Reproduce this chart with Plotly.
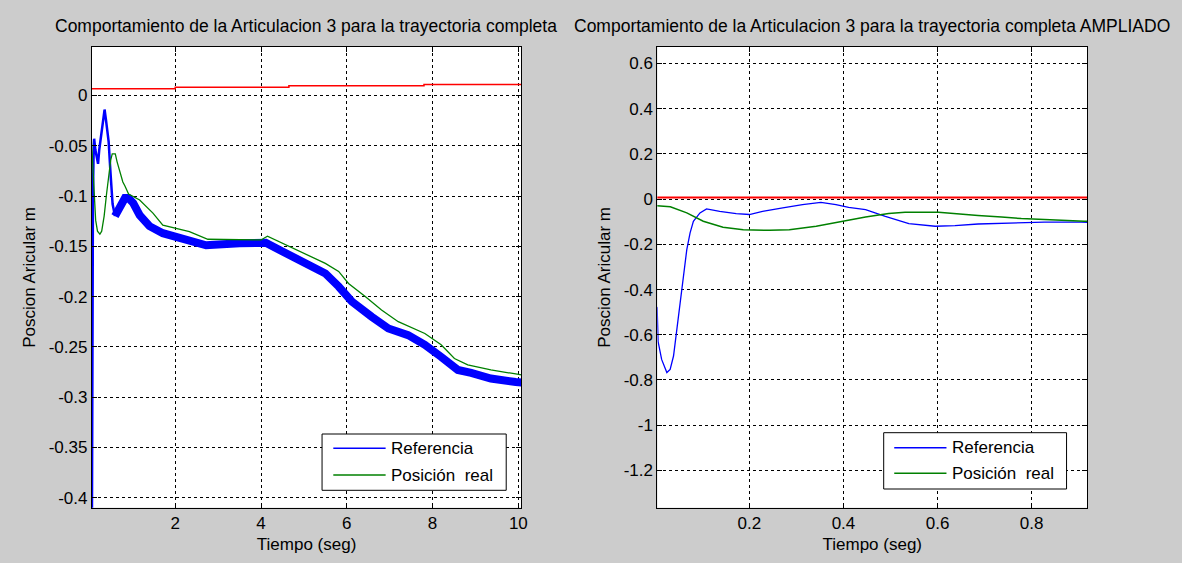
import numpy as np
import plotly.graph_objects as go

# ---- data: joint 3 position over the full trajectory ----
# reference (commanded) position
t_ref = [0.0, 0.004, 0.006, 0.0135, 0.0246, 0.0316, 0.0388, 0.046, 0.053, 0.060,
         0.067, 0.074, 0.081, 0.095, 0.109, 0.137, 0.172, 0.200, 0.228, 0.271,
         0.313, 0.352, 0.384, 0.411, 0.447, 0.489, 0.539, 0.595, 0.637, 0.686,
         0.757, 0.827, 0.905, 1.02, 1.17, 1.40, 1.71, 2.02, 2.33, 2.72,
         3.50, 4.11, 4.49, 5.04, 5.50, 5.81, 6.12, 6.58, 6.97, 7.43,
         7.82, 8.20, 8.59, 8.90, 9.36, 9.94, 10.07]
ref = [-0.47, -0.48, -0.63, -0.709, -0.767, -0.753, -0.694, -0.576, -0.444, -0.326,
       -0.223, -0.149, -0.098, -0.061, -0.043, -0.054, -0.064, -0.068, -0.054, -0.039,
       -0.024, -0.014, -0.024, -0.036, -0.046, -0.076, -0.108, -0.120, -0.117, -0.110,
       -0.105, -0.102, -0.102, -0.107, -0.119, -0.130, -0.137, -0.1404, -0.145, -0.149,
       -0.147, -0.1464, -0.155, -0.167, -0.177, -0.190, -0.205, -0.220, -0.2317, -0.2384,
       -0.248, -0.260, -0.273, -0.276, -0.2815, -0.285, -0.2855]

# measured (real) position
t_real = [0.0, 0.032, 0.067, 0.102, 0.144, 0.187, 0.243, 0.285, 0.342, 0.398,
          0.447, 0.496, 0.531, 0.602, 0.644, 0.686, 0.736, 0.778, 0.827, 0.912,
          1.17, 1.48, 1.71, 2.02, 2.33, 2.76, 3.50, 4.00, 4.15, 4.42,
          5.04, 5.50, 5.81, 6.04, 6.43, 6.81, 7.20, 7.82, 8.20, 8.51,
          8.82, 9.36, 9.94, 10.07]
real = [-0.029, -0.034, -0.061, -0.098, -0.124, -0.135, -0.138, -0.135, -0.120, -0.098,
        -0.079, -0.064, -0.058, -0.058, -0.066, -0.072, -0.079, -0.086, -0.090, -0.098,
        -0.104, -0.117, -0.129, -0.132, -0.1355, -0.143, -0.1437, -0.1437, -0.140, -0.1454,
        -0.157, -0.167, -0.175, -0.187, -0.200, -0.2134, -0.225, -0.2367, -0.248, -0.2616,
        -0.268, -0.273, -0.277, -0.278]

# setpoint steps (drawn in red)
t_set = [0.0, 2.0, 4.65, 7.8, 10.07]
setpoint = [0.0068, 0.0082, 0.0096, 0.0110, 0.0110]

# axis ticks
x1_ticks = [2, 4, 6, 8, 10]
y1_ticks = [0, -0.05, -0.1, -0.15, -0.2, -0.25, -0.3, -0.35, -0.4]
y1_labels = ["0", "-0.05", "-0.1", "-0.15", "-0.2", "-0.25", "-0.3", "-0.35", "-0.4"]
x2_ticks = [0.2, 0.4, 0.6, 0.8]
y2_ticks = [0.6, 0.4, 0.2, 0, -0.2, -0.4, -0.6, -0.8, -1, -1.2]
y2_labels = ["0.6", "0.4", "0.2", "0", "-0.2", "-0.4", "-0.6", "-0.8", "-1", "-1.2"]

TITLE = "Comportamiento de la Articulacion 3 para la trayectoria completa"
NAMES = ["Referencia", "Posición\u00a0\u00a0real"]

BLUE, GREEN, RED = "#0000ff", "#008000", "#ff0000"
BG = "#cccccc"
FONT = "Liberation Sans, Arial, Helvetica, sans-serif"
W, H = 1182, 563

t_ref_a = np.array(t_ref)
ref_a = np.array(ref)
# the reference chatters after ~0.6 s: on the full-time axis it shows as a thick band
band_from = 0.595
early = t_ref_a <= band_from
late = t_ref_a >= band_from

fig = go.Figure()

# --- left panel: full trajectory ---
fig.add_trace(go.Scatter(x=t_set, y=setpoint, mode="lines", line=dict(color=RED, width=1.5, shape="hv"),
                         xaxis="x", yaxis="y", showlegend=False))
fig.add_trace(go.Scatter(x=t_ref_a[early], y=ref_a[early], mode="lines", line=dict(color=BLUE, width=2.5),
                         xaxis="x", yaxis="y", showlegend=False))
fig.add_trace(go.Scatter(x=t_ref_a[late], y=ref_a[late], mode="lines", line=dict(color=BLUE, width=8),
                         xaxis="x", yaxis="y", showlegend=False))
fig.add_trace(go.Scatter(x=t_real, y=real, mode="lines", line=dict(color=GREEN, width=1.3),
                         xaxis="x", yaxis="y", showlegend=False))

# --- right panel: zoom on the first second ---
fig.add_trace(go.Scatter(x=t_set, y=setpoint, mode="lines", line=dict(color=RED, width=2, shape="hv"),
                         xaxis="x2", yaxis="y2", showlegend=False))
fig.add_trace(go.Scatter(x=t_ref, y=ref, mode="lines", line=dict(color=BLUE, width=1.3),
                         xaxis="x2", yaxis="y2", showlegend=False))
fig.add_trace(go.Scatter(x=t_real, y=real, mode="lines", line=dict(color=GREEN, width=1.5),
                         xaxis="x2", yaxis="y2", showlegend=False))


def px_x(p):
    return p / W


def px_y(p):
    return 1 - p / H


axis_common = dict(
    showline=True, linecolor="black", linewidth=1, mirror="allticks",
    ticks="inside", ticklen=5, tickcolor="black",
    showgrid=True, gridcolor="black", gridwidth=1.3, griddash="3px,3px",
    zeroline=False, tickfont=dict(family=FONT, size=17, color="black"),
    title_font=dict(family=FONT, size=17, color="black"),
)

y_dom = [px_y(507.7), px_y(47.0)]

fig.update_layout(
    width=W, height=H, margin=dict(l=0, r=0, t=0, b=0),
    paper_bgcolor=BG, plot_bgcolor="white", showlegend=False,
    font=dict(family=FONT, size=17, color="black"),
    xaxis=dict(domain=[px_x(92.3), px_x(524.0)], range=[0.055, 10.07], tickvals=x1_ticks,
               title=dict(text="Tiempo (seg)", standoff=6), anchor="y", **axis_common),
    yaxis=dict(domain=y_dom, range=[-0.41, 0.0482], tickvals=y1_ticks, ticktext=y1_labels,
               title=dict(text="Poscion Aricular m", standoff=8), anchor="x", **axis_common),
    xaxis2=dict(domain=[px_x(660.7), px_x(1092.7)], range=[0.0044, 0.918], tickvals=x2_ticks,
                title=dict(text="Tiempo (seg)", standoff=6), anchor="y2", **axis_common),
    yaxis2=dict(domain=y_dom, range=[-1.365, 0.673], tickvals=y2_ticks, ticktext=y2_labels,
                title=dict(text="Poscion Aricular m", standoff=8), anchor="x2", **axis_common),
)

# panel titles
fig.add_annotation(text=TITLE, x=px_x(308), y=px_y(26), xref="paper", yref="paper",
                   showarrow=False, xanchor="center", yanchor="middle",
                   font=dict(family=FONT, size=17.5, color="black"))
fig.add_annotation(text=TITLE + " AMPLIADO", x=px_x(876.5), y=px_y(26), xref="paper", yref="paper",
                   showarrow=False, xanchor="center", yanchor="middle",
                   font=dict(family=FONT, size=17.5, color="black"))


# legend boxes (lower right of each panel)
def legend_box(x0, y0, x1, y1, line_x0, line_x1, rows, text_x):
    fig.add_shape(type="rect", xref="paper", yref="paper", x0=px_x(x0), x1=px_x(x1),
                  y0=px_y(y1), y1=px_y(y0), fillcolor="white", line=dict(color="black", width=1),
                  layer="above")
    for (row_y, color, name) in rows:
        fig.add_shape(type="line", xref="paper", yref="paper", x0=px_x(line_x0), x1=px_x(line_x1),
                      y0=px_y(row_y), y1=px_y(row_y), line=dict(color=color, width=1.5), layer="above")
        fig.add_annotation(text=name, x=px_x(text_x), y=px_y(row_y), xref="paper", yref="paper",
                           showarrow=False, xanchor="left", yanchor="middle",
                           font=dict(family=FONT, size=17, color="black"))


legend_box(323.7, 434.0, 508.8, 490.3, 335.0, 387.6,
           [(448.3, BLUE, NAMES[0]), (475.0, GREEN, NAMES[1])], 391.0)
legend_box(888.2, 432.7, 1072.0, 489.0, 898.8, 951.3,
           [(447.7, BLUE, NAMES[0]), (473.3, GREEN, NAMES[1])], 955.0)

fig.write_html("out.html")
